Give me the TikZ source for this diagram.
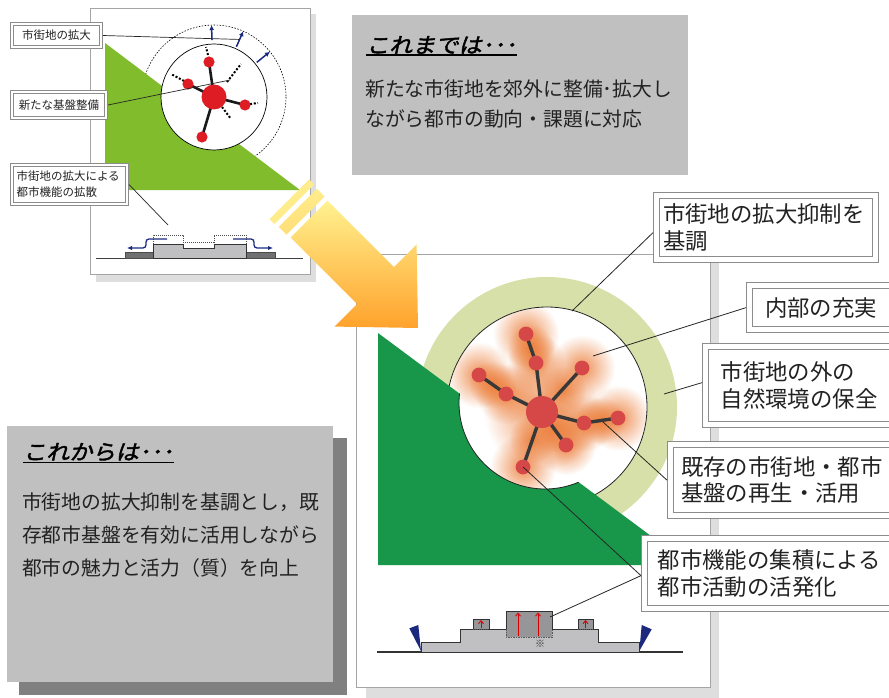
\documentclass[tikz,border=0pt]{standalone}
\usepackage{fontspec}
\setmainfont{Noto Sans CJK JP}
\newfontfamily\jptitle[FakeSlant=0.22,FakeBold=2,FakeStretch=1.1]{Noto Sans CJK JP}
\usetikzlibrary{calc,fadings,arrows.meta}
\definecolor{panelgray}{RGB}{165,165,165}
\definecolor{shadowgray}{RGB}{222,222,222}
\definecolor{boxgray}{RGB}{192,192,192}
\definecolor{darkshadow}{RGB}{128,128,128}
\definecolor{limegreen}{RGB}{128,188,44}
\definecolor{forest}{RGB}{24,150,74}
\definecolor{ringgreen}{RGB}{214,224,168}
\definecolor{dotred}{RGB}{221,28,36}
\definecolor{softred}{RGB}{214,72,72}
\definecolor{navy}{RGB}{28,42,126}
\definecolor{glowor}{RGB}{236,122,52}
\definecolor{lightblock}{RGB}{192,192,194}
\definecolor{darkblock}{RGB}{112,112,114}
\definecolor{midblock}{RGB}{150,150,152}
\definecolor{arrowtop}{RGB}{255,242,144}
\definecolor{arrowbot}{RGB}{255,162,44}
\definecolor{stripeA}{RGB}{255,236,140}
\definecolor{stripeB}{RGB}{255,222,120}
\definecolor{txt}{RGB}{34,34,34}
\tikzfading[name=glowfade, inner color=transparent!15, outer color=transparent!100]
\begin{document}
\begin{tikzpicture}[x=1pt,y=-1pt,
  conn/.style={draw=black!85, line width=0.8pt},
  rlabel/.style={draw=black!45, double=white, double distance=5.5pt, line width=0.9pt, fill=white, inner sep=0pt, outer sep=3.65pt, anchor=north west, text=txt, font=\fontsize{22.4}{26.5}\selectfont},
  tlabel/.style={draw=black!45, double=white, double distance=2.6pt, line width=0.7pt, fill=white, inner sep=0pt, outer sep=2pt, anchor=north west, text=txt, font=\fontsize{11.5}{16}\selectfont},
  dotline/.style={line width=2pt, dash pattern=on 2pt off 1.8pt},
  navyarrow/.style={draw=navy, line width=1.5pt, -{Latex[length=5pt,width=5pt]}},
  netline/.style={line width=2.6pt, black!90},
  rnetline/.style={line width=3.4pt, black!78},
  redarrow/.style={draw=red!85!black, line width=0.9pt, -{Straight Barb[length=3pt,width=5pt]}},
  titlefont/.style={font=\jptitle\fontsize{21}{21}\selectfont},
  bodyfont/.style={font=\fontsize{19.8}{30.5}\selectfont}
]
\fill[white] (0,0) rectangle (889,698);
\useasboundingbox (0,0) rectangle (889,698);

%================ top-left panel =================
\fill[shadowgray] (96,14) rectangle (316,282);
\filldraw[fill=white, draw=panelgray, line width=0.8pt] (90,8) rectangle (310,274);
\coordinate (tc) at (214,97);
\draw[dash pattern=on 1.5pt off 1.5pt, line width=0.6pt] (tc) circle (72);
\fill[limegreen] (105,43) -- (105,190) -- (300,190) -- cycle;
\filldraw[fill=white, draw=black, line width=0.7pt] (tc) circle (53);

\coordinate (td1) at (209,62);
\coordinate (td2) at (188,84);
\coordinate (td3) at (245,105);
\coordinate (td4) at (202,137);
\draw[dotline] (208,55) -- (206,47);
\draw[dotline] (184,81) -- (171,74);
\draw[dotline] (250,104) -- (258,103);
\draw[dotline] (227,82) -- (241,64);
\draw[dotline] (222,107) -- (231,119);
\draw[netline] (tc) -- (td1) (tc) -- (td2) (tc) -- (td3) (tc) -- (td4);
\fill[dotred] (tc) circle (12.5);
\foreach \d in {td1,td2,td3,td4} \fill[dotred] (\d) circle (5.6);

\draw[navyarrow] ($(tc)+(-92:57)$) -- ($(tc)+(-92:72)$);
\draw[navyarrow] ($(tc)+(-66:55)$) -- ($(tc)+(-66:72)$);
\draw[navyarrow] ($(tc)+(-39:55)$) -- ($(tc)+(-39:72)$);

\node[tlabel, minimum width=89pt, minimum height=23pt, align=center] (tl1) at (10,22) {市街地の拡大};
\node[tlabel, minimum width=94pt, minimum height=26pt, align=center] (tl2) at (10,90) {新たな基盤整備};
\node[tlabel, minimum width=115pt, minimum height=39pt, text width=106pt, align=left] (tl3) at (10,163) {市街地の拡大による\\都市機能の拡散};

\coordinate (tl1end) at ($(tc)+(-66:63)$);
\coordinate (tl2end) at (230,80);
\coordinate (tl3end) at (168,225);
\draw[conn, line width=0.7pt] (tl1.east) -- (tl1end);
\draw[conn, line width=0.7pt] (tl2.east) -- (tl2end);
\draw[conn, line width=0.7pt] (tl3.east) -- (tl3end);

% top-left profile
\draw[line width=1pt, black!75] (96,258) -- (303,258);
\filldraw[fill=darkblock, draw=black!70, line width=0.6pt] (125,252) rectangle (153,258);
\filldraw[fill=darkblock, draw=black!70, line width=0.6pt] (246,252) rectangle (275,258);
\filldraw[fill=lightblock, draw=black!80, line width=0.8pt] (153,258) -- (153,244) -- (183,244) -- (183,248) -- (214,248) -- (214,244) -- (246,244) -- (246,258) -- cycle;
\draw[black!70, line width=0.7pt, dash pattern=on 1pt off 1pt] (153,244) -- (153,235) -- (183,235) -- (183,242) -- (214,242) -- (214,235) -- (246,235) -- (246,244);
\draw[navy, line width=1.3pt, rounded corners=3pt, -{Latex[length=5pt,width=4.5pt]}] (167,239) -- (146,239) -- (146,248) -- (127,248);
\draw[navy, line width=1.3pt, rounded corners=3pt, -{Latex[length=5pt,width=4.5pt]}] (233,239) -- (254,239) -- (254,248) -- (273,248);

%================ top text box =================
\fill[boxgray] (352,15) rectangle (688,175);
\node[titlefont, inner sep=0pt, anchor=west, text=black] (t1) at (366,45) {これまでは･･･};
\draw[line width=1.3pt] ([yshift=-1pt]t1.south west) -- ([yshift=-1pt]t1.south east);
\node[bodyfont, inner sep=0pt, anchor=west, align=left, text=txt] (tb) at (365,104) {新たな市街地を郊外に整備･拡大し\\ながら都市の動向・課題に対応};

%================ bottom text box =================
\fill[darkshadow] (19,438) rectangle (347,695);
\fill[boxgray] (7,426) rectangle (333,682);
\node[titlefont, inner sep=0pt, anchor=west, text=black] (t2) at (23,452) {これからは･･･};
\draw[line width=1.3pt] ([yshift=-1pt]t2.south west) -- ([yshift=-1pt]t2.south east);
\node[font=\fontsize{19.8}{33}\selectfont, inner sep=0pt, anchor=west, align=left, text=txt] (bb) at (22,535) {市街地の拡大抑制を基調とし，既\\存都市基盤を有効に活用しながら\\都市の魅力と活力（質）を向上};

%================ right panel =================
\fill[shadowgray] (366,262) rectangle (719,700);
\filldraw[fill=white, draw=panelgray, line width=0.9pt] (356,254) rectangle (710,687);
\coordinate (rcc) at (547,407);
\coordinate (rcc2) at (545,403);
\fill[ringgreen] (rcc) circle (130);
\fill[white] (rcc) circle (100);

\coordinate (rc) at (542,412);
\coordinate (ra1) at (526,334);
\coordinate (ra2) at (536,363);
\coordinate (rb1) at (479,375);
\coordinate (rb2) at (506,394);
\coordinate (rc1) at (582,368);
\coordinate (re1) at (584,423);
\coordinate (re2) at (618,418);
\coordinate (rf1) at (566,445);
\coordinate (rg1) at (523,467);
\begin{scope}
  \clip (rcc) circle (99.5);
  \foreach \p/\r in {rc/58, ra1/33, ra2/29, rb1/33, rb2/30, rc1/33, re1/29, re2/33, rf1/30, rg1/33}
    \fill[glowor, path fading=glowfade] (\p) circle (\r);
  \foreach \a/\b in {rc/rg1, rc/rc1, re1/re2, ra2/ra1, rb2/rb1, rc/rf1}
    \fill[glowor, path fading=glowfade] ($(\a)!0.5!(\b)$) circle (24);
\end{scope}

% green area (triangle minus the inner built-up circle)
\begin{scope}
  \clip (378,333) -- (378,565) -- (690,565) -- cycle;
  \fill[forest, even odd rule] (360,320) rectangle (700,580) (rcc2) circle (86);
\end{scope}
\begin{scope}
  \clip (300,275) -- (720,587.3) -- (720,200) -- (300,200) -- cycle;
  \draw[black!85, line width=0.8pt] (rcc) circle (100);
\end{scope}
\begin{scope}
  \clip (300,275) -- (720,587.3) -- (720,700) -- (300,700) -- cycle;
  \draw[black!85, line width=0.8pt] (rcc2) circle (86);
\end{scope}

\draw[rnetline] (rc) -- (ra2) -- (ra1);
\draw[rnetline] (rc) -- (rb2) -- (rb1);
\draw[rnetline] (rc) -- (rc1);
\draw[rnetline] (rc) -- (re1) -- (re2);
\draw[rnetline] (rc) -- (rf1);
\draw[rnetline] (rc) -- (rg1);
\fill[softred] (rc) circle (16);
\foreach \d in {ra1,ra2,rb1,rb2,rc1,re1,re2,rf1,rg1} \fill[softred] (\d) circle (7.4);

% right profile
\draw[line width=1.2pt, black!80] (377,652) -- (683,652);
\filldraw[fill=lightblock, draw=black!80, line width=0.9pt] (421,652) -- (421,642) -- (460,642) -- (460,629) -- (598,629) -- (598,642) -- (639,642) -- (639,652) -- cycle;
\fill[midblock] (506,611) rectangle (552,637);
\draw[black!80, line width=0.9pt] (506,629) -- (506,611) -- (552,611) -- (552,629);
\draw[black!65, line width=0.6pt, dash pattern=on 1.5pt off 1pt] (506,629) -- (506,637) -- (552,637) -- (552,629);
\fill[midblock] (473,619) rectangle (489,629);
\draw[black!80, line width=0.8pt] (473,629) -- (473,619) -- (489,619) -- (489,629);
\draw[black!65, line width=0.5pt, dash pattern=on 1pt off 1pt] (473,629) -- (489,629);
\fill[midblock] (578,619) rectangle (593,629);
\draw[black!80, line width=0.8pt] (578,629) -- (578,619) -- (593,619) -- (593,629);
\draw[black!65, line width=0.5pt, dash pattern=on 1pt off 1pt] (578,629) -- (593,629);
\draw[redarrow] (518,636) -- (518,612.5);
\draw[redarrow] (538,636) -- (538,612.5);
\draw[redarrow] (481,628) -- (481,620);
\draw[redarrow] (585.5,628) -- (585.5,620);
\node[font=\fontsize{10}{10}\selectfont, inner sep=0pt, text=black!80] (kome) at (540,644) {※};
\fill[navy] (409.3,628.3) -- (418.3,625) -- (421,651) -- cycle;
\fill[navy] (641.7,625) -- (651.7,629.3) -- (639.3,651) -- cycle;

% right connectors
\coordinate (p1) at (572,311);
\coordinate (p2) at (593,356);
\coordinate (p3) at (664,394);
\coordinate (p4) at (603,422);
\coordinate (p5a) at (523,467);
\coordinate (p5b) at (550,617);

\node[rlabel, minimum width=219pt, minimum height=64pt, text width=206pt, align=left] (b1) at (653,192) {市街地の拡大抑制を\\基調};
\node[rlabel, minimum width=143pt, minimum height=44pt, text width=130pt, align=center] (b2) at (746,282) {内部の充実};
\node[rlabel, minimum width=190pt, minimum height=78pt, text width=160pt, align=left] (b3) at (702,343) {市街地の外の\\自然環境の保全};
\node[rlabel, minimum width=225pt, minimum height=71pt, text width=204pt, align=left] (b4) at (667,441) {既存の市街地・都市\\基盤の再生・活用};
\node[rlabel, minimum width=254pt, minimum height=70pt, text width=228pt, align=left] (b5) at (641,535) {都市機能の集積による\\都市活動の活発化};

\draw[conn] ([yshift=-5pt]b1.west) -- (p1);
\draw[conn] (b2.west) -- (p2);
\draw[conn] ([yshift=3pt]b3.west) -- (p3);
\draw[conn] (b4.west) -- (p4);
\draw[conn] ([yshift=-2pt]b5.west) -- (p5a);
\draw[conn] ([yshift=-2pt]b5.west) -- (p5b);

%================ big arrow =================
\fill[stripeA] (314.06,184.46) -- (309.11,179.51) -- (269.51,219.11) -- (274.46,224.06) -- cycle;
\shade[top color=stripeA, bottom color=stripeB] (324.66,196.48) -- (316.88,188.70) -- (278.70,226.88) -- (286.48,234.66) -- cycle;
\shade[top color=arrowtop, bottom color=arrowbot] (418,328) -- (416.58,244.56) -- (393.95,267.19) -- (327.50,200.73) -- (290.73,237.50) -- (357.19,303.95) -- (334.56,326.58) -- cycle;
\end{tikzpicture}
\end{document}
